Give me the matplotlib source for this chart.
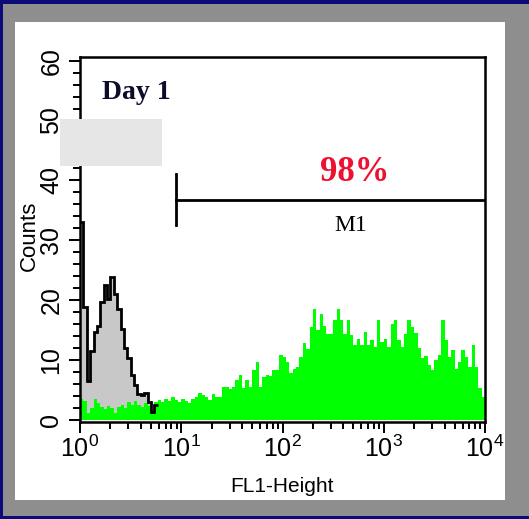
import numpy as np
import matplotlib.pyplot as plt
from matplotlib.patches import Rectangle

plt.rcParams['font.family'] = ['Liberation Sans', 'DejaVu Sans']
plt.rcParams['mathtext.fontset'] = 'custom'
plt.rcParams['mathtext.rm'] = 'Liberation Sans'

# green sample, 120 log channels over 10^0 .. 10^4
sample_counts = [
    3.6, 3.2, 1.2, 2.0, 3.6, 2.8, 2.2, 1.8, 2.4, 2.0,
    1.2, 2.2, 2.6, 2.0, 3.0, 2.6, 3.2, 2.6, 2.2, 2.8,
    2.4, 1.6, 3.0, 3.4, 3.0, 3.6, 3.2, 3.8, 3.4, 3.0,
    3.6, 3.2, 2.8, 3.6, 3.8, 4.5, 4.2, 3.9, 3.3, 4.4,
    3.9, 3.9, 5.5, 5.5, 5.2, 5.6, 6.7, 7.5, 5.3, 6.7,
    5.5, 8.3, 9.7, 5.5, 7.2, 7.5, 7.3, 8.3, 8.3, 10.8,
    10.6, 9.7, 7.8, 8.6, 8.8, 10.6, 12.8, 11.9, 15.6, 18.6,
    15.0, 17.8, 15.8, 14.4, 14.4, 16.7, 18.6, 16.7, 14.4, 16.7,
    14.2, 12.5, 13.6, 12.5, 14.7, 12.5, 13.3, 12.2, 16.7, 13.0,
    13.6, 12.2, 16.1, 16.7, 13.3, 12.2, 14.4, 16.7, 15.6, 14.6,
    12.0, 10.3, 10.7, 9.2, 8.3, 10.0, 10.8, 16.7, 13.3, 10.6,
    11.7, 8.6, 9.7, 11.7, 10.6, 8.9, 12.5, 8.9, 5.3, 3.9,
]
n_channels = 120

# grey control (unstained), first channels only
control_counts = [
    33.0, 18.9, 6.5, 11.5, 14.7, 15.8, 19.7, 22.5, 20.3, 23.9,
    21.0, 18.5, 15.3, 12.0, 10.3, 7.5, 5.8, 4.4, 4.2, 4.6,
    3.0, 1.4, 2.5,
]

yticks = [0, 10, 20, 30, 40, 50, 60]
xticks = [1, 10, 100, 1000, 10000]
xticklabels = ['$\\mathregular{10^{%d}}$' % i for i in range(5)]

marker_lo, marker_hi = 8.9, 10000
marker_y = 36.7
marker_pct = '98%'

edges = np.logspace(0, 4, n_channels + 1)

W, H = 529, 519
fig = plt.figure(figsize=(W / 100, H / 100), dpi=100)
fig.patch.set_facecolor('#0b0b78')
fig.add_artist(Rectangle((3 / W, 3 / H), 526 / W, 512 / H, transform=fig.transFigure,
                         facecolor='#8e8e8e', edgecolor='none', zorder=-3))
fig.add_artist(Rectangle((15 / W, 19 / H), 490 / W, 478 / H, transform=fig.transFigure,
                         facecolor='white', edgecolor='none', zorder=-2))

ax = fig.add_axes([80 / W, 97 / H, 405 / W, 365 / H])
ax.set_xscale('log')
ax.set_xlim(1, 10000)
ax.set_ylim(-0.3, 60.6)

ax.stairs(control_counts, edges[:len(control_counts) + 1], fill=True,
          color='#c8c8c8', zorder=1)
ax.stairs(sample_counts, edges, fill=True, color='#00ff00', zorder=2)
ax.stairs(control_counts, edges[:len(control_counts) + 1], baseline=None,
          color='k', lw=2, zorder=3)

# M1 marker
ax.plot([marker_lo, marker_hi], [marker_y, marker_y], color='k', lw=2, zorder=4)
ax.plot([marker_lo, marker_lo], [marker_y - 4.2, marker_y + 4.4], color='k', lw=2, zorder=4)
ax.text(516, 41.4, marker_pct, color='#ee1030', fontsize=25, fontweight='bold',
        family='Liberation Serif', ha='center', va='center')
ax.text(471, 32.5, 'M1', color='k', fontsize=17, family='Liberation Serif',
        ha='center', va='center')
ax.text(1.65, 54.7, 'Day 1', color='#0d0d2b', fontsize=20, fontweight='bold',
        family='Liberation Serif', ha='left', va='center')

ax.set_yticks(yticks)
ax.set_yticks(np.arange(0, 61, 2), minor=True)
ax.set_yticklabels([str(v) for v in yticks], rotation=90, va='center')
ax.set_xticks(xticks)
ax.set_xticklabels(xticklabels)
ax.tick_params(axis='both', which='major', length=8, width=1.4, labelsize=18, colors='k')
ax.tick_params(axis='both', which='minor', length=5, width=1.4)
ax.tick_params(axis='y', pad=4)
ax.tick_params(axis='x', pad=2)
for s in ax.spines.values():
    s.set_linewidth(1.8)

ax.set_xlabel('FL1-Height', fontsize=15)
ax.set_ylabel('Counts', fontsize=16)
ax.xaxis.set_label_coords(0.5, -0.15)
ax.yaxis.set_label_coords(-0.10, 0.51)

# grey box over the corner
fig.add_artist(Rectangle((60 / W, (H - 166) / H), 102 / W, 47 / H, transform=fig.transFigure,
                         facecolor='#e6e6e6', edgecolor='none', zorder=5))

plt.savefig('out.png', dpi=100)
